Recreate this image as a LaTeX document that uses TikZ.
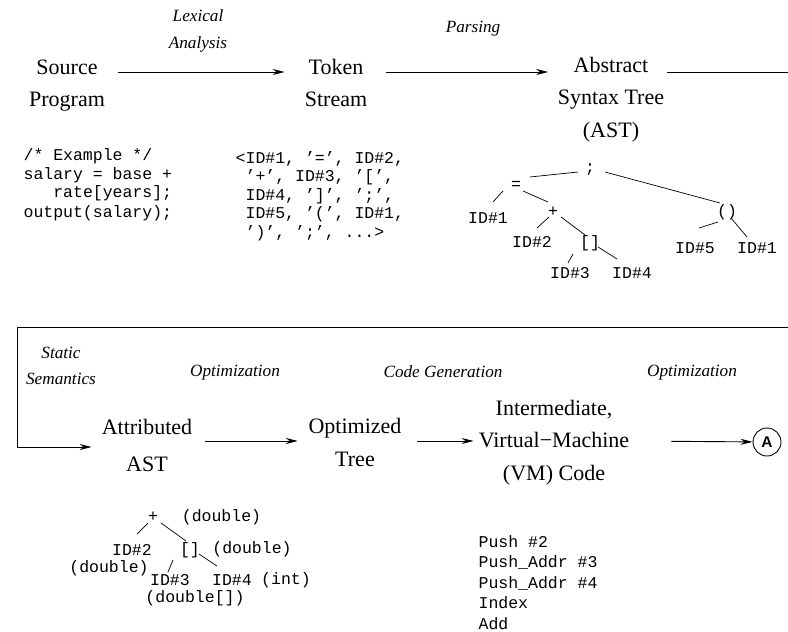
\documentclass[tikz,border=0pt]{standalone}
\usepackage{fontspec}
\setmainfont{Liberation Serif}
\setsansfont{Liberation Sans}
\newfontfamily\codefont{Liberation Mono}
\usetikzlibrary{arrows.meta,calc}
\begin{document}
\begin{tikzpicture}[x=1pt,y=-1pt,
  lbl/.style={font=\fontsize{22}{32.5}\selectfont, align=center, inner sep=0pt},
  stage/.style={font=\fontsize{17.2}{25.5}\selectfont\itshape, align=center, inner sep=0pt},
  code/.style={font=\codefont\fontsize{16.5}{18.5}\selectfont, align=left, inner sep=0pt, anchor=north west},
  tnode/.style={font=\codefont\fontsize{16.5}{18}\selectfont, inner sep=0pt},
  flow/.style={line width=0.9pt, -{Stealth[length=12pt,width=6pt]}},
  plain/.style={line width=0.9pt},
  tedge/.style={line width=0.7pt},
]
\useasboundingbox (0,0) rectangle (788,632);

% rows
\coordinate (row1) at (0,72);
\coordinate (row2) at (0,441);
\coordinate (exitR) at (788,72);
\coordinate (entryR) at (788,327);
\coordinate (bendL) at (17,447);

% top row
\node[lbl] (src) at (67,85.5) {Source\\Program};
\node[lbl] (tok) at (336,83) {Token\\Stream};
\node[lbl] (ast) at (611,99.5) {Abstract\\Syntax Tree\\(AST)};
\node[stage] (lex) at (198,30.5) {Lexical\\[1.5pt]Analysis};
\node[stage] (pars) at (473,29) {Parsing};

\draw[flow, shorten <=13pt, shorten >=20pt] (src.east |- row1) -- (tok.west |- row1);
\draw[flow, shorten <=19pt, shorten >=9.5pt] (tok.east |- row1) -- (ast.west |- row1);
\draw[plain, shorten <=2.5pt] (ast.east |- row1) -- (exitR);

% code
\node[code] (srccode) at (23.4,148.4) {/* Example */\\salary = base +\\\phantom{xxx}rate[years];\\[1.5pt]output(salary);};
\node[code] (tokcode) at (235.5,151.2) {<ID\#1, ’=’, ID\#2,\\\phantom{x}’+’, ID\#3, ’[’,\\\phantom{x}ID\#4, ’]’, ’;’,\\\phantom{x}ID\#5, ’(’, ID\#1,\\\phantom{x}’)’, ’;’, ...>};

% AST tree
\node[tnode] (semi) at (590,170) {;};
\node[tnode] (eq) at (516,185) {=};
\node[tnode] (idA) at (488,218) {ID\#1};
\node[tnode] (plus) at (553,212) {+};
\node[tnode] (idB) at (532,242) {ID\#2};
\node[tnode] (brk) at (590,243) {[]};
\node[tnode] (idC) at (570,273) {ID\#3};
\node[tnode] (idD) at (632,273) {ID\#4};
\node[tnode] (paren) at (727,212) {()};
\node[tnode] (idE) at (695,248) {ID\#5};
\node[tnode] (idF) at (757,248) {ID\#1};

\draw[tedge] ([shift={(-12,2)}]semi.center) -- ([shift={(14,-8)}]eq.center);
\draw[tedge] ([shift={(15,2)}]semi.center) -- ([shift={(-7,-9)}]paren.center);
\draw[tedge] ([shift={(-13,6)}]eq.center) -- ([shift={(5,-16)}]idA.center);
\draw[tedge] ([shift={(7,6)}]eq.center) -- ([shift={(-5,-10)}]plus.center);
\draw[tedge] ([shift={(-4,5)}]plus.center) -- ([shift={(5,-14)}]idB.center);
\draw[tedge] ([shift={(8,5)}]plus.center) -- ([shift={(-5,-8)}]brk.center);
\draw[tedge] ([shift={(-17,11)}]brk.center) -- ([shift={(-2,-10)}]idC.center);
\draw[tedge] ([shift={(8,4)}]brk.center) -- ([shift={(-15,-14)}]idD.center);
\draw[tedge] ([shift={(-9,10)}]paren.center) -- ([shift={(4,-20)}]idE.center);
\draw[tedge] ([shift={(4,6)}]paren.center) -- ([shift={(-10,-11)}]idF.center);

% bottom row
\node[stage] (stat) at (61,366) {Static\\Semantics};
\node[stage] (opt1) at (235,373) {Optimization};
\node[stage] (cgen) at (443,372) {Code Generation};
\node[stage] (opt2) at (692,373) {Optimization};

\node[lbl] (attr) at (147,445.5) {Attributed\\[5pt]AST};
\node[lbl] (opt) at (355,442.5) {Optimized\\Tree};
\node[lbl] (vm) at (554,442.5) {Intermediate,\\Virtual−Machine\\(VM) Code};
\node[draw, circle, line width=0.9pt, minimum size=28pt, inner sep=0pt,
      font=\sffamily\bfseries\fontsize{15.5}{15.5}\selectfont] (circA) at (767,442) {A};

\draw[flow, shorten >=10pt] (entryR) -| (bendL) -- (attr.west |- bendL);
\draw[flow, shorten <=13pt, shorten >=10.6pt] (attr.east |- row2) -- (opt.west |- row2);
\draw[flow, shorten <=15.6pt, shorten >=5pt] (opt.east |- row2) -- (vm.west |- row2);
\draw[flow, shorten <=42pt] (vm.east |- row2) -- (circA);

% attributed tree
\node[tnode] (aplus) at (153,517) {+};
\node[tnode] (atyA) at (221.5,517) {(double)};
\node[tnode] (aidB) at (132,550) {ID\#2};
\node[tnode] (abrk) at (190,550) {[]};
\node[tnode] (atyB) at (252,549) {(double)};
\node[tnode] (atyC) at (109,568) {(double)};
\node[tnode] (aidC) at (170,580) {ID\#3};
\node[tnode] (aidD) at (232,580) {ID\#4};
\node[tnode] (atyD) at (286,580) {(int)};
\node[tnode] (atyE) at (195,598) {(double[])};

\draw[tedge] ([shift={(-5,6)}]aplus.center) -- ([shift={(5,-16)}]aidB.center);
\draw[tedge] ([shift={(8,6)}]aplus.center) -- ([shift={(-4,-9)}]abrk.center);
\draw[tedge] ([shift={(-17,10)}]abrk.center) -- ([shift={(-2,-8)}]aidC.center);
\draw[tedge] ([shift={(9,4)}]abrk.center) -- ([shift={(-15,-14)}]aidD.center);

% VM code
\node[code, font=\codefont\fontsize{16.5}{20.5}\selectfont] (vmcode) at (478.4,535) {Push \#2\\Push\_Addr \#3\\Push\_Addr \#4\\Index\\Add};
\end{tikzpicture}
\end{document}
